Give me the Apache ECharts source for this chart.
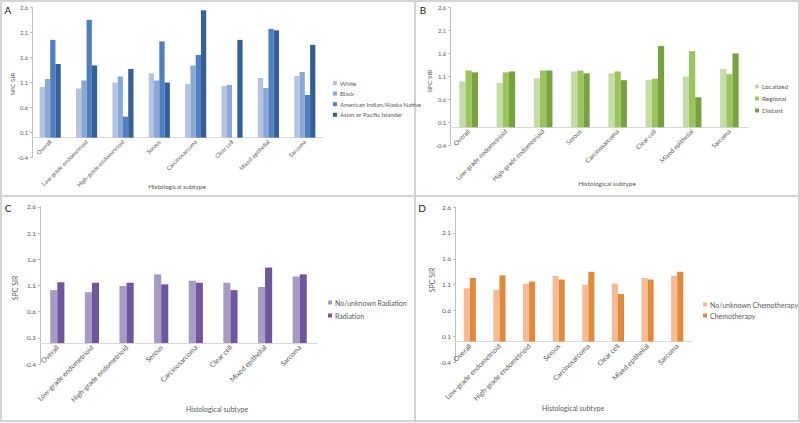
<!DOCTYPE html>
<html>
<head>
<meta charset="utf-8">
<script src="https://cdn.jsdelivr.net/npm/echarts@6/dist/echarts.min.js"></script>
<style>
html,body{margin:0;padding:0;background:#fff;}
#c{width:800px;height:423px;}
</style>
</head>
<body>
<div id="c"></div>
<script>
const categories = ['Overall','Low-grade endometrioid','High-grade endometrioid','Serous','Carcinosarcoma','Clear cell','Mixed epithelial','Sarcoma'];
const yTicks = [-0.4, 0.1, 0.6, 1.1, 1.6, 2.1, 2.6];

// Panel A: race
const raceNames = ['White','Black','American Indian/Alaska Native','Asian or Pacific Islander'];
const white = [1.01, 0.98, 1.10, 1.28, 1.07, 1.03, 1.19, 1.23];
const black = [1.17, 1.14, 1.22, 1.14, 1.44, 1.05, 0.99, 1.31];
const aian  = [1.95, 2.35, 0.42, 1.92, 1.65, null, 2.17, 0.85];
const api   = [1.47, 1.44, 1.37, 1.10, 2.54, 1.95, 2.14, 1.85];

// Panel B: stage
const stageNames = ['Localized','Regional','Distant'];
const localized = [0.99, 0.96, 1.06, 1.21, 1.17, 1.02, 1.10, 1.26];
const regional  = [1.23, 1.19, 1.23, 1.23, 1.21, 1.05, 1.65, 1.15];
const distant   = [1.19, 1.21, 1.23, 1.17, 1.02, 1.76, 0.65, 1.60];

// Panel C: radiation
const radNames = ['No/unknown Radiation','Radiation'];
const noRad = [1.01, 0.97, 1.09, 1.31, 1.19, 1.15, 1.07, 1.27];
const rad   = [1.16, 1.15, 1.15, 1.12, 1.15, 1.01, 1.44, 1.31];

// Panel D: chemotherapy
const chemoNames = ['No/unknown Chemotherapy','Chemotherapy'];
const noChemo = [1.03, 1.00, 1.12, 1.27, 1.10, 1.12, 1.23, 1.27];
const chemo   = [1.23, 1.28, 1.16, 1.20, 1.35, 0.92, 1.20, 1.35];

const FONT = 'Lato, "Open Sans", sans-serif';
const TXT = '#595959';
const Y_MIN = yTicks[0], Y_MAX = yTicks[yTicks.length-1];

const panels = [
  {grid:{left:32, top:7.3, width:291, height:150.4}, names:raceNames, data:[white,black,aian,api],
   colors:['#b4c3e1','#8ba7d6','#4f7fc0','#33609a'], gap:'42%', lab:5.8, tick:5.8,
   legend:{left:333, top:80, fs:6, gap:4.6}},
  {grid:{left:450, top:7.3, width:298, height:138.4}, names:stageNames, data:[localized,regional,distant],
   colors:['#c6dca8','#9cc45c','#77a242'], gap:'50%', lab:6.4, tick:5.8,
   legend:{left:755, top:83, fs:6.5, gap:5}},
  {grid:{left:40, top:206.8, width:277, height:157.2}, names:radNames, data:[noRad,rad],
   colors:['#a89bc3','#70569f'], gap:'59%', lab:7, tick:6.5,
   legend:{left:328, top:299, fs:7, gap:6}},
  {grid:{left:455, top:207.1, width:237, height:155.2}, names:chemoNames, data:[noChemo,chemo],
   colors:['#f8b996','#e08a3e'], gap:'59%', lab:7, tick:6.5,
   legend:{left:703, top:301, fs:7, gap:4}}
];

const option = {
  animation:false,
  backgroundColor:'#fff',
  grid:[], xAxis:[], yAxis:[], series:[], legend:[],
  graphic:[]
};

panels.forEach((p,i)=>{
  option.grid.push(Object.assign({containLabel:false}, p.grid));
  // distance from the grid bottom (axis min) up to the zero line, so labels sit under the zero axis line
  const zeroOffset = p.grid.height * (0 - Y_MIN) / (Y_MAX - Y_MIN);
  option.xAxis.push({
    type:'category', gridIndex:i, data:categories,
    axisLine:{onZero:true, lineStyle:{color:'#d9d9d9', width:1}},
    axisTick:{show:false},
    axisLabel:{rotate:45, fontSize:p.lab, color:TXT, fontFamily:FONT, margin:3 - zeroOffset, interval:0}
  });
  option.yAxis.push({
    type:'value', gridIndex:i, min:Y_MIN, max:Y_MAX, interval:0.5,
    axisLine:{show:true, lineStyle:{color:'#bfbfbf', width:1}},
    axisTick:{show:true, length:2, lineStyle:{color:'#bfbfbf'}},
    splitLine:{show:false},
    axisLabel:{fontSize:p.tick, color:TXT, fontFamily:FONT, margin:4, formatter:v=>(Math.round(v*10)/10).toFixed(1)}
  });
  p.names.forEach((n,k)=>{
    option.series.push({
      type:'bar', name:n, xAxisIndex:i, yAxisIndex:i, data:p.data[k],
      barGap:'0%', barCategoryGap:p.gap,
      itemStyle:{color:p.colors[k]}
    });
  });
  option.legend.push({
    data:p.names, orient:'vertical', left:p.legend.left, top:p.legend.top,
    itemWidth:4, itemHeight:4, itemGap:p.legend.gap, padding:0,
    icon:'rect',
    textStyle:{fontSize:p.legend.fs, color:TXT, fontFamily:FONT, padding:[0,0,0,-2]}
  });
});

// axis titles and panel letters
const titles = [
  {letter:'A', lx:8, ly:10, yx:12, yy:84, hx:177, hy:186, fs:6.5},
  {letter:'B', lx:423, ly:10, yx:429, yy:81, hx:607, hy:183, fs:6.5},
  {letter:'C', lx:8, ly:208, yx:15, yy:288, hx:217, hy:409, fs:7},
  {letter:'D', lx:422, ly:208, yx:432, yy:280, hx:573, hy:408, fs:7}
];
titles.forEach(t=>{
  option.graphic.push({type:'text', x:t.lx, y:t.ly, style:{text:t.letter, fontSize:10, fill:'#222', fontFamily:FONT, align:'center', verticalAlign:'middle'}});
  option.graphic.push({type:'text', x:t.yx, y:t.yy, rotation:Math.PI/2, style:{text:'SPC SIR', fontSize:t.fs, fill:TXT, fontFamily:FONT, align:'center', verticalAlign:'middle'}});
  option.graphic.push({type:'text', x:t.hx, y:t.hy, style:{text:'Histological subtype', fontSize:t.fs, fill:TXT, fontFamily:FONT, align:'center', verticalAlign:'middle'}});
});
// panel borders
option.graphic.push({type:'rect', shape:{x:1, y:1, width:798, height:420}, style:{fill:'none', stroke:'#d4d4d4', lineWidth:2}, z:-1});
option.graphic.push({type:'line', shape:{x1:415, y1:0, x2:415, y2:423}, style:{stroke:'#d4d4d4', lineWidth:2}, z:-1});
option.graphic.push({type:'line', shape:{x1:0, y1:196, x2:800, y2:196}, style:{stroke:'#d4d4d4', lineWidth:2}, z:-1});

const chart = echarts.init(document.getElementById('c'), null, {renderer:'svg'});
chart.setOption(option);
</script>
</body>
</html>
